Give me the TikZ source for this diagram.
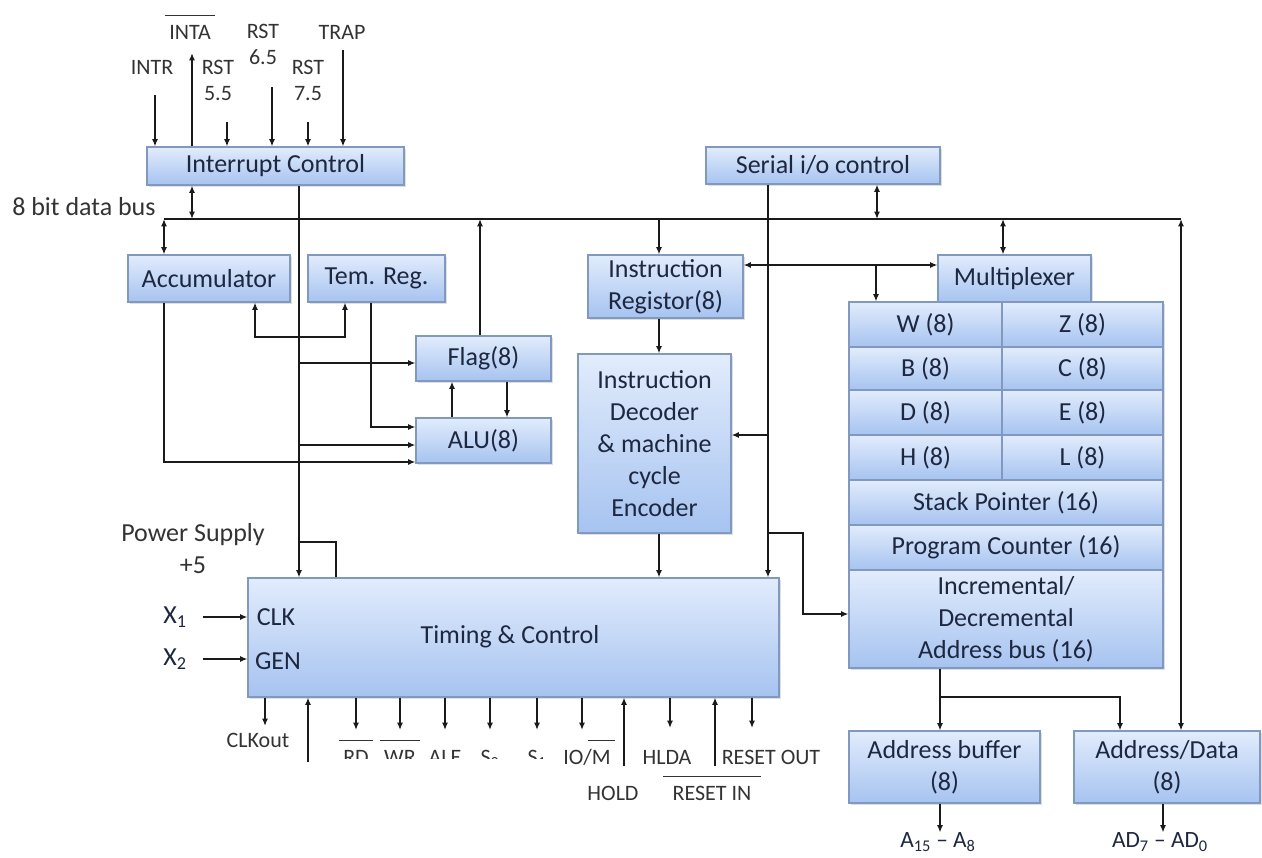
\documentclass[tikz,border=0pt]{standalone}
\usepackage{fontspec}
\setmainfont{Carlito}
\usetikzlibrary{arrows.meta,shadows,fit}
\definecolor{boxtop}{HTML}{E2ECFC}
\definecolor{boxbot}{HTML}{A6C3F0}
\definecolor{boxline}{HTML}{8199BF}
\definecolor{txt}{HTML}{1E2740}
\definecolor{wirec}{HTML}{1A1A1A}
\definecolor{lbl}{HTML}{333333}
\newcommand\ovl[1]{\hbox{\kern-3pt\vbox{\hrule height 0.9pt\kern 6.5pt\hbox{\kern3pt #1\kern3pt}}\kern-3pt}}
\newcommand\bx[4]{\node[blk, fit={#2 #3}] (#1) {}; \node[big] (#1-t) at (#1.center) {#4};}
\begin{document}
\begin{tikzpicture}[x=0.75pt,y=-0.75pt,
 blk/.style={draw=boxline, line width=0.8pt, top color=boxtop, bottom color=boxbot,
   inner sep=0pt,
   drop shadow={shadow xshift=1.5pt,shadow yshift=-1.5pt,opacity=0.25}},
 big/.style={text=txt, font=\fontsize{19.5}{24}\selectfont, inner sep=0pt, align=center},
 biglbl/.style={text=lbl, font=\fontsize{19.5}{24}\selectfont, inner sep=0pt, align=center},
 sig/.style={text=lbl, font=\fontsize{16.5}{19.5}\selectfont, inner sep=0pt, align=center},
 wire/.style={draw=wirec, line width=1.3pt},
 arr/.style={wire, -{Latex[length=5.5pt,width=4.5pt]}},
 darr/.style={wire, {Latex[length=5.5pt,width=4.5pt]}-{Latex[length=5.5pt,width=4.5pt]}},
]
\useasboundingbox (0,0) rectangle (1262,857);

% ---------- blocks ----------
\bx{intc}{(147,147)}{(404,185)}{Interrupt Control}
\bx{serial}{(706,147)}{(940,184)}{Serial i/o control}
\bx{acc}{(128,255)}{(290,302)}{Accumulator}
\bx{temp}{(308,255)}{(445,302)}{Tem. Reg.}
\bx{ir}{(588,255)}{(743,318)}{Instruction\\Registor(8)}
\bx{mux}{(938,255)}{(1091,302)}{Multiplexer}
\bx{flag}{(416,336)}{(551,381)}{Flag(8)}
\bx{alu}{(416,418)}{(551,463)}{ALU(8)}
\bx{dec}{(578,354)}{(731,533)}{Instruction\\Decoder\\\& machine\\cycle\\Encoder}
\node[blk, fit={(248,578)(779,697)}] (tc) {};
\node[big] (tclbl) at (510,637) {Timing \& Control};
\node[big] (clk) at (276,617) {CLK};
\node[big] (gen) at (278,661) {GEN};

\bx{w}{(849,302)}{(1002,347)}{W (8)}
\bx{z}{(1002,302)}{(1163,347)}{Z (8)}
\bx{b}{(849,347)}{(1002,390)}{B (8)}
\bx{c}{(1002,347)}{(1163,390)}{C (8)}
\bx{d}{(849,390)}{(1002,435)}{D (8)}
\bx{e}{(1002,390)}{(1163,435)}{E (8)}
\bx{h}{(849,435)}{(1002,480)}{H (8)}
\bx{l}{(1002,435)}{(1163,480)}{L (8)}
\bx{sp}{(849,480)}{(1163,525)}{Stack Pointer (16)}
\bx{pc}{(849,525)}{(1163,570)}{Program Counter (16)}
\bx{inc}{(849,570)}{(1163,668)}{Incremental/\\Decremental\\Address bus (16)}

\bx{abuf}{(849,731)}{(1040,803)}{Address buffer\\(8)}
\bx{adata}{(1074,731)}{(1260,803)}{Address/Data\\(8)}

% ---------- data bus ----------
\coordinate (t1) at (164,219);
\coordinate (t2) at (192,219);
\coordinate (t3) at (480,219);
\coordinate (t4) at (659,219);
\coordinate (t5) at (877,219);
\coordinate (t6) at (1003,219);
\coordinate (t7) at (1181,219);
\draw[wire] (t1) -- (t7);
\node[biglbl, anchor=west] (busl) at (12,207) {8 bit data bus};
\draw[darr] (t1) -- (acc.north -| t1);
\draw[darr] (intc.south -| t2) -- (t2);
\draw[arr] (flag.north -| t3) -- (t3);
\draw[arr] (t4) -- (ir.north -| t4);
\draw[darr] (serial.south -| t5) -- (t5);
\draw[darr] (t6) -- (mux.north -| t6);
\draw[darr] (t7) -- (adata.north -| t7);

% ---------- interrupt control line ----------
\coordinate (v1) at (299,363);
\coordinate (v2) at (299,445);
\coordinate (ps1) at (299,542);
\coordinate (ps2) at (336,542);
\draw[arr] (intc.south -| v1) -- (tc.north -| v1);
\draw[arr] (v1) -- (flag.west |- v1);
\draw[arr] (v2) -- (alu.west |- v2);
\draw[wire] (ps1) -- (ps2) -- (tc.north -| ps2);
\node[biglbl] (ps) at (193,549) {Power Supply\\+5};

% ---------- accumulator / temp ----------
\coordinate (a1) at (164,462);
\draw[arr] (acc.south -| a1) -- (a1) -- (alu.west |- a1);
\coordinate (tr1) at (371,427);
\draw[arr] (temp.south -| tr1) -- (tr1) -- (alu.west |- tr1);
\coordinate (at1) at (255,337);
\coordinate (at2) at (345,337);
\draw[darr] (acc.south -| at1) -- (at1) -- (at2) -- (temp.south -| at2);
\coordinate (af1) at (452,400);
\coordinate (af2) at (507,400);
\draw[arr] (alu.north -| af1) -- (flag.south -| af1);
\draw[arr] (flag.south -| af2) -- (alu.north -| af2);

% ---------- instruction path ----------
\coordinate (im) at (876,265);
\draw[darr] (ir.east |- im) -- (mux.west |- im);
\draw[arr] (im) -- (w.north -| im);
\draw[arr] (ir.south -| t4) -- (dec.north -| t4);
\draw[arr] (dec.south -| t4) -- (tc.north -| t4);

% ---------- serial line ----------
\coordinate (s1) at (768,435);
\coordinate (s2) at (768,533);
\coordinate (s3) at (803,533);
\coordinate (s4) at (803,614);
\draw[arr] (serial.south -| s1) -- (tc.north -| s1);
\draw[arr] (s1) -- (dec.east |- s1);
\draw[arr] (s2) -- (s3) -- (s4) -- (inc.west |- s4);

% ---------- address outputs ----------
\coordinate (ab1) at (940,697);
\coordinate (ab2) at (1120,697);
\draw[arr] (inc.south -| ab1) -- (abuf.north -| ab1);
\draw[arr] (ab1) -- (ab2) -- (adata.north -| ab2);
\node[big, font=\fontsize{17.5}{21}\selectfont] (aout) at (938,842) {A\textsubscript{15} -- A\textsubscript{8}};
\node[big, font=\fontsize{17.5}{21}\selectfont] (adout) at (1160,842) {AD\textsubscript{7} -- AD\textsubscript{0}};
\draw[arr] (abuf.south -| ab1) -- (aout.north -| ab1);
\coordinate (ad3) at (1163,803);
\draw[arr] (adata.south -| ad3) -- (adout.north -| ad3);

% ---------- interrupt inputs ----------
\node[sig, anchor=base] (intr) at (152,74) {INTR};
\node[sig, anchor=base] (inta) at (190,39) {\ovl{INTA}};
\node[sig] (rst55) at (218,80) {RST\\5.5};
\node[sig] (rst65) at (263,44) {RST\\6.5};
\node[sig] (rst75) at (308,80) {RST\\7.5};
\node[sig, anchor=base] (trap) at (342,39) {TRAP};
\coordinate (intrS) at (155,95);
\coordinate (intaE) at (192,53);
\coordinate (r55S) at (227,122);
\coordinate (r65S) at (272,87);
\coordinate (r75S) at (308,122);
\coordinate (trapS) at (343,50);
\draw[arr] (intrS) -- (intc.north -| intrS);
\draw[arr] (intc.north -| intaE) -- (intaE);
\draw[arr] (r55S) -- (intc.north -| r55S);
\draw[arr] (r65S) -- (intc.north -| r65S);
\draw[arr] (r75S) -- (intc.north -| r75S);
\draw[arr] (trapS) -- (intc.north -| trapS);

% ---------- clock inputs ----------
\node[big] (x1) at (175,617) {X\textsubscript{1}};
\node[big] (x2) at (175,659) {X\textsubscript{2}};
\coordinate (x1S) at (203,617);
\coordinate (x2S) at (203,659);
\draw[arr] (x1S) -- (tc.west |- x1S);
\draw[arr] (x2S) -- (tc.west |- x2S);

% ---------- bottom signals ----------
\coordinate (clkoE) at (265,726);
\coordinate (rdyS) at (308,762);
\coordinate (rdE) at (356,730);
\coordinate (wrE) at (400,730);
\coordinate (aleE) at (445,730);
\coordinate (s0E) at (490,730);
\coordinate (s1E) at (537,730);
\coordinate (iomE) at (582,730);
\coordinate (holdS) at (624,766);
\coordinate (hldaE) at (670,728);
\coordinate (rinS) at (715,766);
\coordinate (routE) at (752,728);
\draw[arr] (tc.south -| clkoE) -- (clkoE);
\draw[arr] (rdyS) -- (tc.south -| rdyS);
\draw[arr] (tc.south -| rdE) -- (rdE);
\draw[arr] (tc.south -| wrE) -- (wrE);
\draw[arr] (tc.south -| aleE) -- (aleE);
\draw[arr] (tc.south -| s0E) -- (s0E);
\draw[arr] (tc.south -| s1E) -- (s1E);
\draw[arr] (tc.south -| iomE) -- (iomE);
\draw[arr] (holdS) -- (tc.south -| holdS);
\draw[arr] (tc.south -| hldaE) -- (hldaE);
\draw[arr] (rinS) -- (tc.south -| rinS);
\draw[arr] (tc.south -| routE) -- (routE);

\node[sig, anchor=base] (clko) at (258,747) {CLKout};
\begin{scope}
\clip (330,700) rectangle (560,758);
\node[sig, anchor=base] (rd) at (356,764) {\ovl{RD}};
\node[sig, anchor=base] (wr) at (400,764) {\ovl{WR}};
\node[sig, anchor=base] (ale) at (445,764) {ALE};
\node[sig, anchor=base] (s0) at (490,764) {S\textsubscript{0}};
\node[sig, anchor=base] (s1l) at (537,764) {S\textsubscript{1}};
\end{scope}
\node[sig, anchor=base] (iom) at (587,764) {IO/\ovl{M}};
\node[sig, anchor=base] (hlda) at (667,764) {HLDA};
\node[sig, anchor=base] (rout) at (771,764) {RESET OUT};
\node[sig, anchor=base] (hold) at (613,800) {HOLD};
\node[sig, anchor=base] (rin) at (712,800) {\ovl{\kern4pt RESET IN\kern4pt}};
\end{tikzpicture}
\end{document}
